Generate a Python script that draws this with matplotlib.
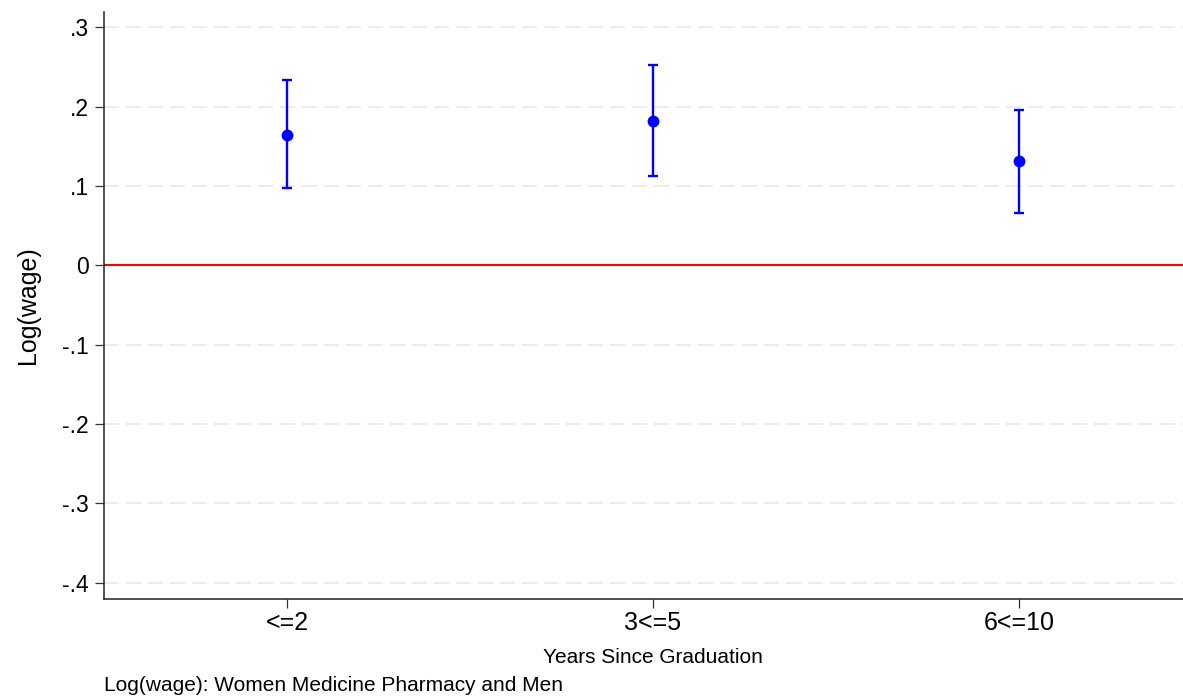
import matplotlib
matplotlib.use("Agg")
import matplotlib.pyplot as plt
import numpy as np

categories = ["<=2", "3<=5", "6<=10"]
coef = [0.164, 0.182, 0.131]
ci_low = [0.097, 0.112, 0.066]
ci_high = [0.233, 0.253, 0.196]
yticks = [0.3, 0.2, 0.1, 0.0, -0.1, -0.2, -0.3, -0.4]
ytick_labels = [".3", ".2", ".1", "0", "-.1", "-.2", "-.3", "-.4"]

plt.rcParams['font.family'] = ['Liberation Sans', 'DejaVu Sans']

W, H = 1183, 697
fig = plt.figure(figsize=(W / 100, H / 100), dpi=100)
left_px, right_px, top_px, bot_px = 104, 1202, 11.7, 598.7
ax = fig.add_axes([left_px / W, 1 - bot_px / H, (right_px - left_px) / W, (bot_px - top_px) / H])

x = np.arange(1, len(categories) + 1)
coef_a = np.array(coef)
err = np.vstack([coef_a - np.array(ci_low), np.array(ci_high) - coef_a])

for yv in yticks:
    ax.axhline(yv, color="#e9e9e9", lw=1.2, dashes=(9, 4.2), zorder=0)
ax.axhline(0, color="#ff0000", lw=1.5, zorder=2)
ax.errorbar(x, coef_a, yerr=err, fmt="o", color="#0000ff", ecolor="#0000ff",
            elinewidth=1.7, capsize=3.8, capthick=1.7, markersize=7.5, zorder=3)

ax.set_xlim(0.5, 3.5)
ax.set_ylim(-0.4204, 0.3197)
ax.set_xticks(x)
ax.set_xticklabels(categories, fontsize=18)
ax.set_yticks(yticks)
ax.set_yticklabels(ytick_labels, fontsize=16.5)
ax.tick_params(axis="both", direction="out", length=6.5, width=0.9, color="#333333")
ax.tick_params(axis="y", pad=4.5)
ax.tick_params(axis="x", pad=2)

for s in ["top", "right"]:
    ax.spines[s].set_visible(False)
for s in ["left", "bottom"]:
    ax.spines[s].set_linewidth(1.1)
    ax.spines[s].set_color("#222222")

ax.set_ylabel("Log(wage)", fontsize=18)
ax.yaxis.set_label_coords((40 - left_px) / (right_px - left_px), 0.5)
ax.set_xlabel("Years Since Graduation", fontsize=15, va="top")
ax.xaxis.set_label_coords(0.5, (bot_px - 648) / (bot_px - top_px))

fig.text(104 / W, 1 - 691 / H, "Log(wage): Women Medicine Pharmacy and Men",
         fontsize=15, ha="left", va="baseline")

fig.savefig("out.png", dpi=100)
